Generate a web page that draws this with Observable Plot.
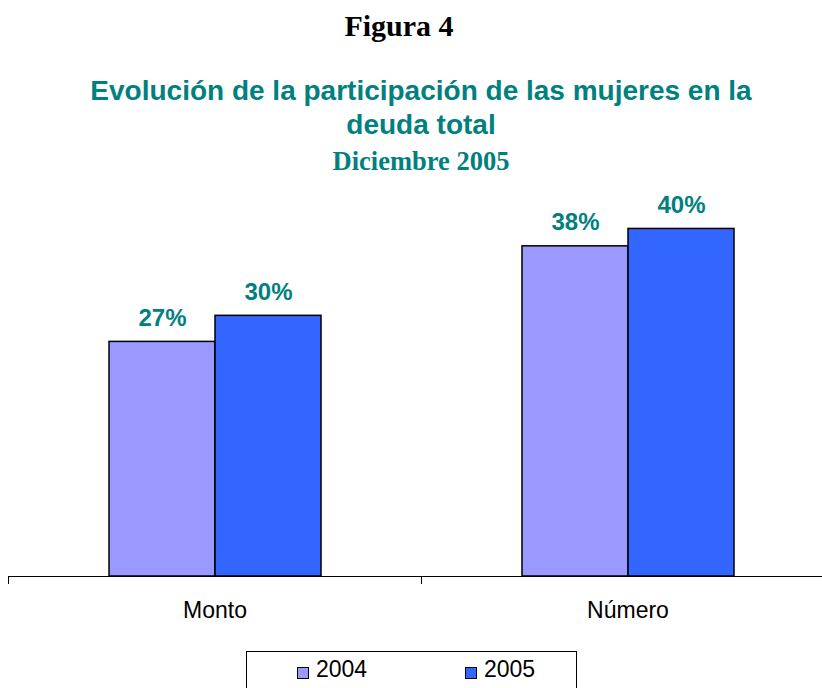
<!DOCTYPE html>
<html>
<head>
<meta charset="utf-8">
<script src="https://cdn.jsdelivr.net/npm/d3@7"></script>
<script src="https://cdn.jsdelivr.net/npm/@observablehq/plot@0.6"></script>
<style>
  html, body { margin: 0; padding: 0; background: #fff; overflow: hidden; }
  #page { position: relative; width: 822px; height: 688px; overflow: hidden; }
  .t { position: absolute; left: 0; white-space: nowrap; }
  #fig { top: 9px; width: 798px; text-align: center; font-family: "Liberation Serif", "Times New Roman", serif; font-weight: bold; font-size: 30px; color: #000; }
  #sub { top: 74px; width: 842px; text-align: center; font-family: "Liberation Sans", Arial, sans-serif; font-weight: bold; font-size: 28px; line-height: 34px; color: #008080; }
  #date { top: 146px; width: 842px; text-align: center; font-family: "Liberation Serif", "Times New Roman", serif; font-weight: bold; font-size: 26.5px; color: #008080; }
  #legend { position: absolute; left: 246px; top: 651px; width: 329px; height: 40px; border: 1px solid #000; font-family: "Liberation Sans", Arial, sans-serif; font-size: 23px; line-height: 23px; }
  .sw { position: absolute; top: 15px; width: 10px; height: 10px; border: 1px solid #000; }
  .lt { position: absolute; top: 6px; }
  #chart { position: absolute; left: 0; top: 0; width: 840px; }
</style>
</head>
<body>
<div id="page">
  <div id="chart"></div>
  <div class="t" id="fig">Figura 4</div>
  <div class="t" id="sub">Evolución de la participación de las mujeres en la<br>deuda total</div>
  <div class="t" id="date">Diciembre 2005</div>
  <div id="legend"></div>
</div>
<script>
const categories = ["Monto", "Número"];
const years = ["2004", "2005"];
const values2004 = [27, 38];
const values2005 = [30, 40];
const colors = ["#9999FF", "#3366FF"];

const data = [];
categories.forEach((c, i) => {
  data.push({cat: c, year: years[0], value: values2004[i]});
  data.push({cat: c, year: years[1], value: values2005[i]});
});

const W = 840, ML = 8, MR = 6;
const band = (W - ML - MR) / categories.length;

const chart = Plot.plot({
  width: W,
  height: 688,
  marginTop: 185,
  marginBottom: 112,
  marginLeft: ML,
  marginRight: MR,
  style: {background: "transparent", overflow: "visible", maxWidth: "none", fontFamily: "'Liberation Sans', Arial, sans-serif"},
  fx: {domain: categories, padding: 0, label: null},
  x: {domain: years, paddingInner: 0, paddingOuter: 0.948, axis: null},
  y: {domain: [0, 45], axis: null},
  color: {domain: years, range: colors},
  marks: [
    Plot.barY(data, {fx: "cat", x: "year", y: "value", fill: "year", stroke: "#000", strokeWidth: 1.5}),
    Plot.text(data, {fx: "cat", x: "year", y: "value", text: d => d.value + "%", lineAnchor: "bottom", dy: -16,
      fill: "#008080", fontWeight: "bold", fontSize: 24, fontFamily: "'Liberation Sans', Arial, sans-serif"}),
    Plot.ruleY([0], {stroke: "#000", strokeWidth: 1}),
    Plot.axisFx({anchor: "bottom", tickSize: 8, text: null, dx: -band / 2, label: null, stroke: "#000"}),
    Plot.axisFx({anchor: "bottom", tickSize: 0, tickPadding: 25, fontSize: 23, label: null, fill: "#000"})
  ]
});
document.getElementById("chart").appendChild(chart);

const legend = document.getElementById("legend");
const swLeft = [50, 218];
years.forEach((y, i) => {
  const sw = document.createElement("div");
  sw.className = "sw";
  sw.style.left = swLeft[i] + "px";
  sw.style.background = colors[i];
  const tx = document.createElement("span");
  tx.className = "lt";
  tx.style.left = (swLeft[i] + 19) + "px";
  tx.textContent = y;
  legend.appendChild(sw);
  legend.appendChild(tx);
});
</script>
</body>
</html>
